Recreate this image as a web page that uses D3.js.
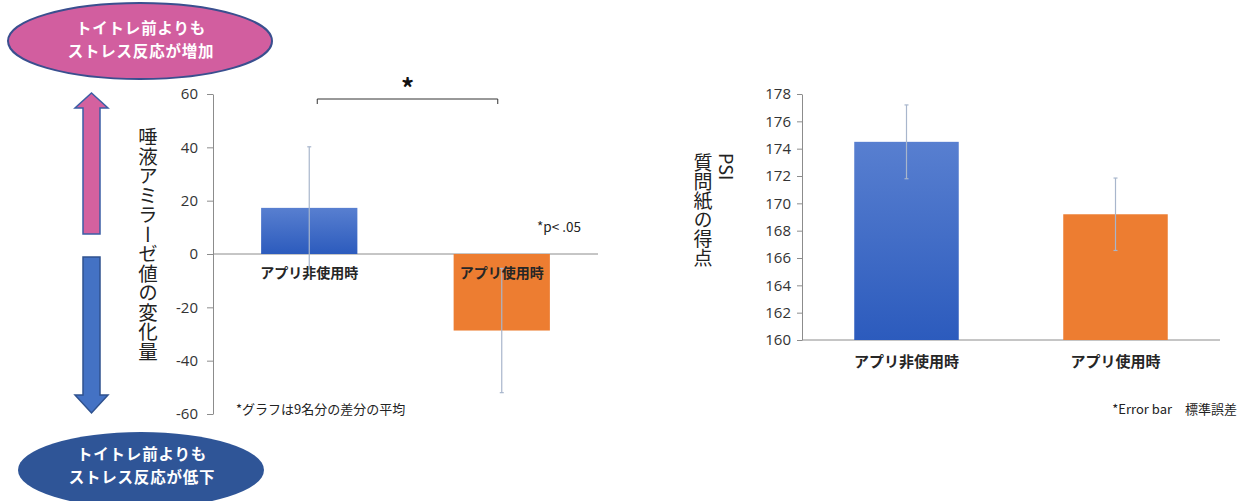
<!DOCTYPE html>
<head>
  <meta charset="utf-8">
  <script src="https://d3js.org/d3.v7.min.js"></script>
  <style>
    body { margin:0; background:#fff; }
    text { font-family:"Noto Sans CJK JP","Noto Sans",sans-serif; }
    .tick text { font-family:"Open Sans",sans-serif; font-size:15px; fill:#333; }
    .axis path, .axis line { stroke:#8c8c8c; }
  </style>
</head>
<body>
  <script>
    // data
    const categories = ["アプリ非使用時", "アプリ使用時"];
    const amylaseMean = [17.3, -28.7];
    const amylaseErr = [22.9, 23.3];
    const amylaseTicks = [-60, -40, -20, 0, 20, 40, 60];
    const psiMean = [174.5, 169.2];
    const psiErr = [2.7, 2.65];
    const psiTicks = [160, 162, 164, 166, 168, 170, 172, 174, 176, 178];
    const barFills = ["url(#gradBlue)", "#ed7d31"];

    const W = 1243, H = 501;
    const svg = d3.select("body").append("svg")
      .attr("width", W).attr("height", H);

    const defs = svg.append("defs");
    const grad = defs.append("linearGradient").attr("id", "gradBlue")
      .attr("x1", 0).attr("y1", 0).attr("x2", 0).attr("y2", 1);
    grad.append("stop").attr("offset", "0%").attr("stop-color", "#587fd0");
    grad.append("stop").attr("offset", "100%").attr("stop-color", "#2c5bbd");

    const errColor = "#a8b6cc";

    // ---------- left chart ----------
    const xL = d3.scaleBand().domain(categories).range([213, 598]);
    const yL = d3.scaleLinear().domain([-60, 60]).range([414, 94]);

    const gL = svg.append("g");
    gL.append("g").attr("class", "axis")
      .attr("transform", "translate(213,0)")
      .call(d3.axisLeft(yL).tickValues(amylaseTicks).tickFormat(d => String(d))
        .tickSize(6).tickSizeOuter(0).tickPadding(9));
    gL.append("line")
      .attr("x1", 213).attr("x2", 598)
      .attr("y1", yL(0)).attr("y2", yL(0))
      .attr("stroke", "#8c8c8c");

    const bwL = xL.bandwidth() * 0.5;
    gL.selectAll(".bar").data(categories).enter().append("rect")
      .attr("x", d => xL(d) + (xL.bandwidth() - bwL) / 2)
      .attr("width", bwL)
      .attr("y", (d, i) => yL(Math.max(0, amylaseMean[i])))
      .attr("height", (d, i) => Math.abs(yL(amylaseMean[i]) - yL(0)))
      .attr("fill", (d, i) => barFills[i]);

    function errBars(g, x, y, means, errs) {
      categories.forEach((c, i) => {
        const cx = x(c) + x.bandwidth() / 2;
        const top = y(means[i] + errs[i]), bot = y(means[i] - errs[i]);
        g.append("line").attr("x1", cx).attr("x2", cx).attr("y1", top).attr("y2", bot)
          .attr("stroke", errColor).attr("stroke-width", 1.2);
        [top, bot].forEach(v => g.append("line")
          .attr("x1", cx - 2).attr("x2", cx + 2).attr("y1", v).attr("y2", v)
          .attr("stroke", errColor).attr("stroke-width", 1.2));
      });
    }
    errBars(gL, xL, yL, amylaseMean, amylaseErr);

    gL.selectAll(".cat").data(categories).enter().append("text")
      .attr("x", d => xL(d) + xL.bandwidth() / 2)
      .attr("y", yL(0) + 24)
      .attr("text-anchor", "middle")
      .attr("font-size", 14).attr("font-weight", "bold").attr("fill", "#262626")
      .text(d => d);

    // significance bracket
    const bx1 = xL(categories[0]) + xL.bandwidth() / 2 + 8;
    const bx2 = xL(categories[1]) + xL.bandwidth() / 2 - 4;
    gL.append("path")
      .attr("d", `M${bx1},104V99H${bx2}V104`)
      .attr("fill", "none").attr("stroke", "#333").attr("stroke-width", 1);
    gL.append("text").attr("x", (bx1 + bx2) / 2).attr("y", 98)
      .attr("text-anchor", "middle").attr("font-size", 26).attr("font-weight", "bold")
      .attr("fill", "#111").text("*");

    gL.append("text").attr("x", 537).attr("y", 232)
      .attr("font-size", 13.5).attr("fill", "#222").text("*p< .05");
    gL.append("text").attr("x", 236).attr("y", 414)
      .attr("font-size", 13).attr("fill", "#222").text("*グラフは9名分の差分の平均");

    gL.append("text").attr("x", 148).attr("y", 127)
      .style("writing-mode", "vertical-rl")
      .attr("font-size", 19.5).attr("fill", "#222")
      .text("唾液アミラーゼ値の変化量");

    // arrows
    svg.append("path")
      .attr("d", "M91.5,93L108,108H100V234H83V108H75Z")
      .attr("fill", "#d4619f").attr("stroke", "#3b5ea5").attr("stroke-width", 1.5);
    svg.append("path")
      .attr("d", "M83,257H100V395H108L91.5,413L75,395H83Z")
      .attr("fill", "#4472c4").attr("stroke", "#2f528f").attr("stroke-width", 1.5);

    // ellipses
    svg.append("ellipse").attr("cx", 140).attr("cy", 41).attr("rx", 132).attr("ry", 38)
      .attr("fill", "#d25e9f").attr("stroke", "#3a4f8f").attr("stroke-width", 2);
    svg.append("ellipse").attr("cx", 141).attr("cy", 470).attr("rx", 123).attr("ry", 38)
      .attr("fill", "#2f5597");
    const ellTexts = [
      {cx: 141, y: 34, lines: ["トイトレ前よりも", "ストレス反応が増加"]},
      {cx: 142, y: 460, lines: ["トイトレ前よりも", "ストレス反応が低下"]}
    ];
    ellTexts.forEach(e => {
      e.lines.forEach((l, i) => svg.append("text")
        .attr("x", e.cx).attr("y", e.y + i * 22.5)
        .attr("text-anchor", "middle").attr("font-size", 15.5).attr("font-weight", "bold")
        .attr("letter-spacing", 0.8)
        .attr("fill", "#fff").text(l));
    });

    // ---------- right chart ----------
    const xR = d3.scaleBand().domain(categories).range([802, 1220]);
    const yR = d3.scaleLinear().domain([160, 178]).range([340, 94]);
    const gR = svg.append("g");
    gR.append("g").attr("class", "axis")
      .attr("transform", "translate(802,0)")
      .call(d3.axisLeft(yR).tickValues(psiTicks).tickSize(5).tickSizeOuter(0).tickPadding(6));
    gR.append("line").attr("x1", 802).attr("x2", 1220)
      .attr("y1", yR(160)).attr("y2", yR(160)).attr("stroke", "#8c8c8c");

    const bwR = xR.bandwidth() * 0.5;
    gR.selectAll(".bar").data(categories).enter().append("rect")
      .attr("x", d => xR(d) + (xR.bandwidth() - bwR) / 2)
      .attr("width", bwR)
      .attr("y", (d, i) => yR(psiMean[i]))
      .attr("height", (d, i) => yR(160) - yR(psiMean[i]))
      .attr("fill", (d, i) => barFills[i]);
    errBars(gR, xR, yR, psiMean, psiErr);

    gR.selectAll(".cat").data(categories).enter().append("text")
      .attr("x", d => xR(d) + xR.bandwidth() / 2)
      .attr("y", 367)
      .attr("text-anchor", "middle")
      .attr("font-size", 15).attr("font-weight", "bold").attr("fill", "#262626")
      .text(d => d);

    gR.append("text").attr("x", 727).attr("y", 153)
      .style("writing-mode", "vertical-rl")
      .attr("font-size", 18).attr("fill", "#222").text("PSI");
    gR.append("text").attr("x", 703).attr("y", 153)
      .style("writing-mode", "vertical-rl")
      .attr("font-size", 19).attr("fill", "#222").text("質問紙の得点");

    gR.append("text").attr("x", 1237).attr("y", 414)
      .attr("text-anchor", "end")
      .attr("font-size", 13).attr("fill", "#222").text("*Error bar　標準誤差");
  </script>
</body>
